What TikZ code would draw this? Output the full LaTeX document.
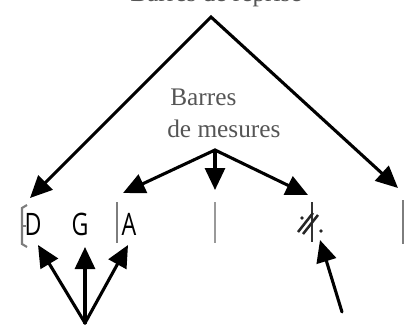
\documentclass[tikz,border=0pt]{standalone}
\usepackage{fontspec}
\setmainfont{Liberation Serif}
\newfontfamily\chordfont[FakeStretch=0.75]{Open Sans}
\usetikzlibrary{arrows.meta,positioning}
\definecolor{txtgray}{RGB}{85,85,85}
\definecolor{bargray}{RGB}{125,125,125}
\tikzset{
  lbl/.style={font=\fontsize{18}{23}\selectfont, text=txtgray, anchor=base west, inner sep=0pt},
  chord/.style={font=\chordfont\fontsize{22}{26}\selectfont, text=black, anchor=base, inner sep=0pt},
  barline/.style={draw=bargray, line width=1.2pt},
  flow/.style={-{Triangle[length=5.5mm,width=5mm]}, line width=2.2pt, line cap=round},
  flowboth/.style={{Triangle[length=5.5mm,width=5mm]}-{Triangle[length=5.5mm,width=5mm]}, line width=2.2pt, line join=miter},
}

\begin{document}
\begin{tikzpicture}[x=0.025cm, y=-0.025cm]
    \useasboundingbox (0,0) rectangle (405,324);
    % labels
    \node[lbl] (reprise) at (130,1) {Barres de reprise};
    \node[lbl] (barres) at (170,105) {Barres};
    \node[lbl] (mesures) at (167,137) {de mesures};
    % chords
    \node[chord] (D) at (33,235) {D};
    \node[chord] (G) at (80,235) {G};
    \node[chord] (A) at (129,235) {A};
    % bar lines and signs
    \draw[barline, line width=1.5pt] (27,205) -- (22,208) -- (22,244) -- (27,247);
    \draw[barline] (22,226) -- (26,226);
    \draw[barline] (117,202) -- (117,243);
    \draw[barline, draw=black!40] (215,202) -- (215,243);
    \draw[line width=1.1pt, black!80] (312,202) -- (312,242);
    \draw[line width=1.8pt, black!85] (298,232) -- (313,213) (303,234) -- (318,215);
    \fill[black!85] (302,218) circle (1.8) (321,231) circle (1.8);
    \draw[barline] (403,200) -- (403,244);
    % arrow ends
    \coordinate (apex) at (211,17);
    \coordinate (repL) at (30,198);
    \coordinate (repR) at (398,188);
    \coordinate (mfork) at (215,150);
    \coordinate (barA) at (123,193);
    \coordinate (barM) at (215,190);
    \coordinate (barS) at (308,195);
    \coordinate (cfork) at (85,323);
    \coordinate (tipD) at (38,245);
    \coordinate (tipG) at (85,247);
    \coordinate (tipA) at (128,245);
    \coordinate (sfoot) at (342,312);
    \coordinate (tipS) at (320,240);
    % arrows
    \draw[flowboth] (repL) -- (apex) -- (repR);
    \draw[flow] (mfork) -- (barA);
    \draw[flow] (mfork) -- (barM);
    \draw[flow] (mfork) -- (barS);
    \draw[flow] (cfork) -- (tipD);
    \draw[flow] (cfork) -- (tipG);
    \draw[flow] (cfork) -- (tipA);
    \draw[flow] (sfoot) -- (tipS);
\end{tikzpicture}
\end{document}
